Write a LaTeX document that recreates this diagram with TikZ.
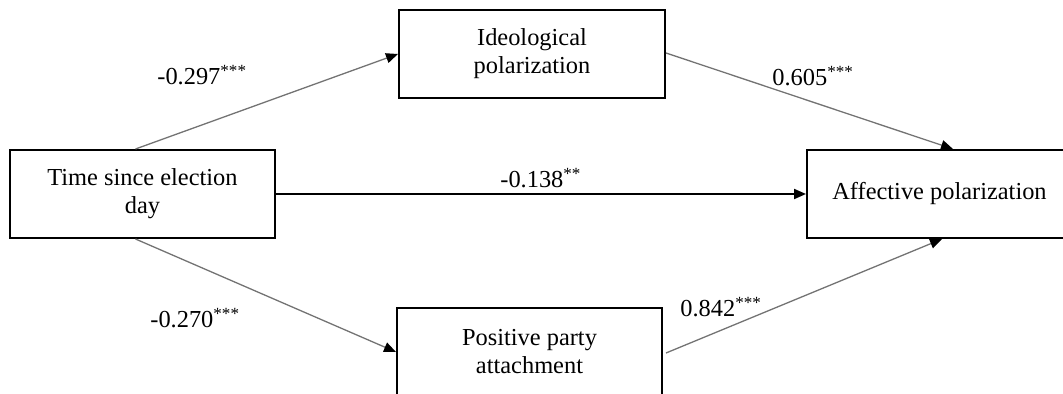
\documentclass[tikz,border=0pt]{standalone}
\usepackage{fontspec}
\setmainfont{Liberation Serif}
\usetikzlibrary{arrows.meta,calc}
\begin{document}
\begin{tikzpicture}[x=0.5pt,y=-0.5pt,
  box/.style={draw,line width=1pt,minimum height=44pt,inner sep=0pt,align=center,font=\fontsize{12.2}{14}\selectfont},
  lbl/.style={anchor=base west,inner sep=0pt,font=\fontsize{12.2}{14}\selectfont},
  tip/.style={-{Triangle[length=6pt,width=5pt,color=black]}},
  garrow/.style={draw=black!55,line width=0.65pt,tip},
  barrow/.style={draw=black,line width=1pt,tip}]
\useasboundingbox (0,0) rectangle (1063,394);
\clip (0,0) rectangle (1063,394);
% boxes
\node[box,minimum width=132.5pt] (tsed) at (142.5,194) {Time since election\\day};
\node[box,minimum width=133pt] (ideo) at (532,54) {Ideological\\polarization};
\node[box,minimum width=132.5pt] (pos) at (529.5,352) {Positive party\\attachment};
\node[box,minimum width=132.5pt] (aff) at (939.5,194) {Affective polarization};
% connectors
\draw[garrow] ($(tsed.north)+(-7,0)$) -- (ideo.west);
\draw[garrow] ($(tsed.south)+(-7,0)$) -- (pos.west);
\draw[garrow] ($(ideo.east)+(0,-1)$) -- ($(aff.north)+(13.5,0)$);
\draw[garrow] ($(pos.east)+(3,1)$) -- ($(aff.south)+(2.5,0)$);
\draw[barrow] (tsed.east) -- (aff.west);
% labels
\node[lbl] (l1) at (157,85) {-0.297\textsuperscript{***}};
\node[lbl] (l2) at (772,86) {0.605\textsuperscript{***}};
\node[lbl] (l3) at (500,188) {-0.138\textsuperscript{**}};
\node[lbl] (l4) at (150,328) {-0.270\textsuperscript{***}};
\node[lbl] (l5) at (680,317) {0.842\textsuperscript{***}};
\end{tikzpicture}
\end{document}
